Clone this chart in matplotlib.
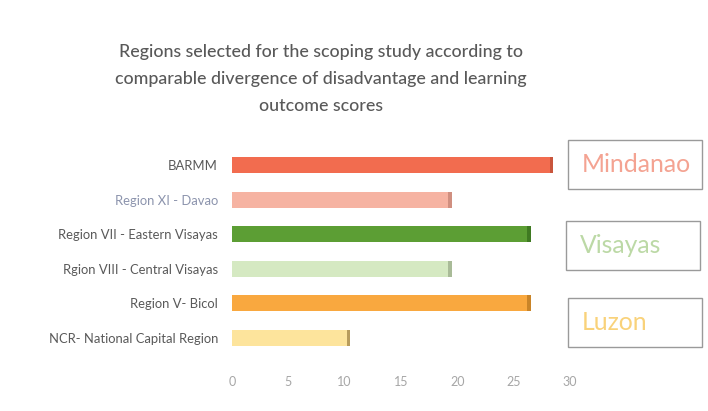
import matplotlib
matplotlib.use("Agg")
import matplotlib.pyplot as plt
from matplotlib.patches import Rectangle

categories = ["BARMM", "Region XI - Davao", "Region VII - Eastern Visayas",
              "Rgion VIII - Central Visayas", "Region V- Bicol", "NCR- National Capital Region"]
values = [28.5, 19.5, 26.5, 19.5, 26.5, 10.5]
bar_colors = ["#f26c4f", "#f6b3a2", "#5c9e34", "#d5e9c2", "#f9a83f", "#fde49c"]
end_colors = ["#c9553c", "#d08f80", "#3f7a22", "#a9bb98", "#c98428", "#b89c5c"]
label_colors = ["#595959", "#8c94ad", "#595959", "#595959", "#595959", "#595959"]
xticks = [0, 5, 10, 15, 20, 25, 30]
groups = ["Mindanao", "Visayas", "Luzon"]
group_colors = ["#f4a392", "#bcd9a6", "#f9d27a"]

W, H = 708, 411
fig = plt.figure(figsize=(W / 100, H / 100), dpi=100)
plt.rcParams['font.family'] = ['Lato', 'DejaVu Sans']

ax = fig.add_axes([232 / W, 1 - 355.3 / H, (570 - 232) / W, (355.3 - 147.7) / H])
ypos = list(range(len(categories)))
ax.barh(ypos, values, height=0.46, color=bar_colors, zorder=2)
ax.barh(ypos, [0.3] * len(values), left=[v - 0.3 for v in values], height=0.46,
        color=end_colors, zorder=3)
ax.set_xlim(0, 30)
ax.set_ylim(len(categories) - 0.5, -0.5)
ax.set_yticks(ypos)
ax.set_yticklabels(categories, fontsize=9.4)
for t, c in zip(ax.get_yticklabels(), label_colors):
    t.set_color(c)
ax.set_xticks(xticks)
ax.set_xticklabels([str(x) for x in xticks], fontsize=9, color="#a6a6a6")
ax.tick_params(axis="both", length=0)
ax.tick_params(axis="y", pad=10)
ax.tick_params(axis="x", pad=15)
for s in ax.spines.values():
    s.set_visible(False)

fig.text(321 / W, 1 - 79 / H,
         "Regions selected for the scoping study according to\n"
         "comparable divergence of disadvantage and learning\n"
         "outcome scores",
         ha="center", va="center", fontsize=12.8, color="#595959",
         linespacing=1.85, fontweight="medium")

boxes = [(568, 140, 134, 49), (566, 221, 134, 49), (568, 298, 134, 49)]
for (bx, by, bw, bh), g, gc in zip(boxes, groups, group_colors):
    fig.patches.append(Rectangle((bx / W, 1 - (by + bh) / H), bw / W, bh / H,
                                 transform=fig.transFigure, fill=False,
                                 edgecolor="#9a9a9a", linewidth=1.0))
    fig.text((bx + 14) / W, 1 - (by + bh / 2) / H, g, ha="left", va="center",
             fontsize=17.8, color=gc)

fig.savefig("out.png", dpi=100, facecolor="white")
